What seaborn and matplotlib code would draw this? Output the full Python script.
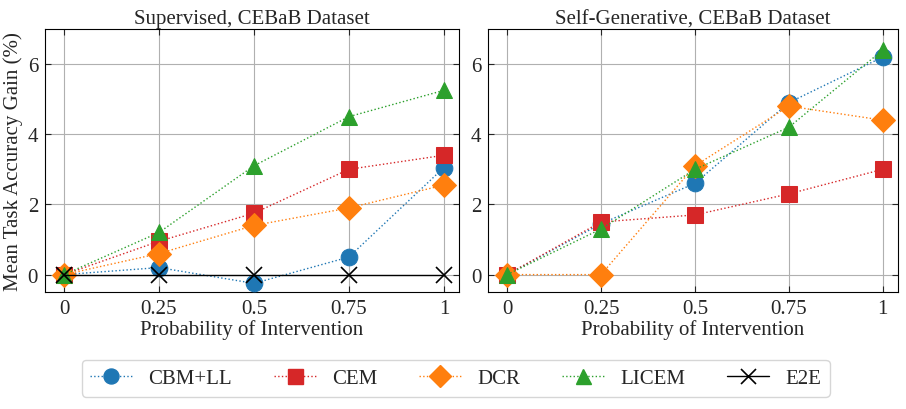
import numpy as np
import pandas as pd
import matplotlib
matplotlib.use("Agg")
import matplotlib.pyplot as plt
import seaborn as sns
from matplotlib.lines import Line2D

probs = [0, 0.25, 0.5, 0.75, 1]
tick_labels = ["0", "0.25", "0.5", "0.75", "1"]
methods = ["CBM+LL", "CEM", "DCR", "LICEM", "E2E"]

sup_cbm = [0.0, 0.2, -0.25, 0.5, 3.05]
sup_cem = [0.0, 0.95, 1.75, 3.0, 3.4]
sup_dcr = [0.0, 0.6, 1.4, 1.9, 2.55]
sup_licem = [0.0, 1.2, 3.1, 4.5, 5.25]
sup_e2e = [0.0, 0.0, 0.0, 0.0, 0.0]

gen_cbm = [0.0, 1.45, 2.6, 4.9, 6.2]
gen_cem = [0.0, 1.5, 1.7, 2.3, 3.0]
gen_dcr = [0.0, 0.0, 3.1, 4.8, 4.4]
gen_licem = [0.0, 1.3, 3.0, 4.2, 6.4]

sns.set_theme(style="white")
plt.rcParams["font.family"] = ["Liberation Serif", "DejaVu Serif"]
plt.rcParams["font.serif"] = ["Liberation Serif", "DejaVu Serif"]
plt.rcParams["mathtext.fontset"] = "stix"

FS = 15
colors = {"CBM+LL": "#1f77b4", "CEM": "#d62728", "DCR": "#ff7f0e", "LICEM": "#2ca02c", "E2E": "black"}
markers = {"CBM+LL": "o", "CEM": "s", "DCR": "D", "LICEM": "^", "E2E": "x"}
msizes = {"CBM+LL": 12, "CEM": 12, "DCR": 12, "LICEM": 12, "E2E": 12}

fig = plt.figure(figsize=(9.06, 4.10), dpi=100)
ax1 = fig.add_axes([0.0497, 0.285, 0.457, 0.642])
ax2 = fig.add_axes([0.539, 0.285, 0.452, 0.642])

panels = [
    (ax1, "Supervised, CEBaB Dataset",
     {"CBM+LL": sup_cbm, "CEM": sup_cem, "DCR": sup_dcr, "LICEM": sup_licem, "E2E": sup_e2e}),
    (ax2, "Self-Generative, CEBaB Dataset",
     {"CBM+LL": gen_cbm, "CEM": gen_cem, "DCR": gen_dcr, "LICEM": gen_licem}),
]

for ax, title, series in panels:
    for m, vals in series.items():
        df = pd.DataFrame({"p": probs, "gain": vals})
        if m == "E2E":
            sns.lineplot(data=df, x="p", y="gain", ax=ax, color="black", linestyle="-",
                         linewidth=1.0, marker="x", markersize=12, markeredgewidth=1.2,
                         markeredgecolor="black", markerfacecolor="black", zorder=5)
        else:
            sns.lineplot(data=df, x="p", y="gain", ax=ax, color=colors[m], linestyle=":",
                         linewidth=1.0, marker=markers[m], markersize=msizes[m],
                         markeredgecolor=colors[m], markerfacecolor=colors[m], zorder=4)
    ax.set_title(title, fontsize=FS, pad=4, family="Liberation Serif")
    ax.set_xlim(-0.05, 1.04)
    ax.set_ylim(-0.5, 7.0)
    ax.set_xticks(probs)
    ax.set_xticklabels(tick_labels, family="Liberation Serif")
    ax.set_yticks([0, 2, 4, 6])
    ax.set_yticklabels(["0", "2", "4", "6"], family="Liberation Serif")
    ax.grid(True, color="#b0b0b0", linewidth=0.8)
    ax.set_axisbelow(True)
    ax.tick_params(direction="in", top=True, right=True, bottom=True, left=True,
                   labelsize=FS, length=4, width=0.8, pad=5)
    for s in ax.spines.values():
        s.set_color("black")
        s.set_linewidth(0.8)
    ax.set_xlabel("Probability of Intervention", fontsize=FS, labelpad=1, family="Liberation Serif")
    ax.set_ylabel("")

ax1.set_ylabel("Mean Task Accuracy Gain (%)", fontsize=FS, labelpad=3, family="Liberation Serif")

handles = []
for m in methods:
    if m == "E2E":
        h = Line2D([], [], color="black", linestyle="-", linewidth=1.0, marker="x",
                   markersize=12, markeredgewidth=1.2)
    else:
        h = Line2D([], [], color=colors[m], linestyle=":", linewidth=1.0, marker=markers[m],
                   markersize=msizes[m])
    handles.append(h)

fig.legend(handles, methods, loc="lower center", bbox_to_anchor=(0.503, 0.005), ncol=5,
           prop={"family": "Liberation Serif", "size": FS}, frameon=True,
           columnspacing=2.0, handlelength=2.0,
           borderpad=0.4, handletextpad=0.8, edgecolor="#cccccc", fancybox=True,
           markerscale=0.9)

fig.savefig("out.png", dpi=100)
